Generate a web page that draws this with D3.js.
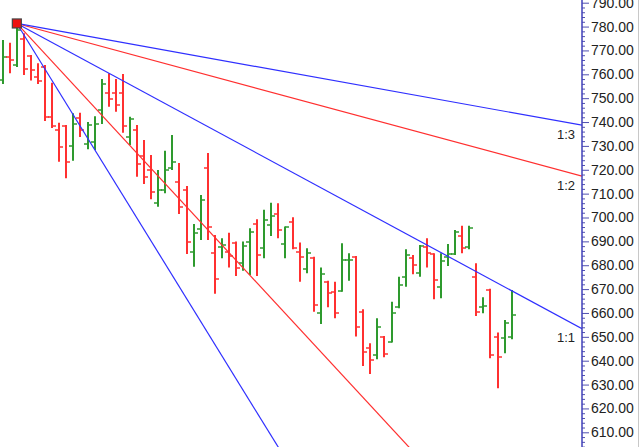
<!DOCTYPE html>
<html>
<head>
<meta charset="utf-8">
<script src="https://cdn.jsdelivr.net/npm/d3@7"></script>
<style>
  html, body { margin: 0; padding: 0; background: #fff; }
  svg { display: block; }
</style>
</head>
<body>
<svg id="chart" width="640" height="447"></svg>
<script>
// ---- Data (OHLC per bar) ----
const barOpen  = [757.6,767.1,763.9,774.9,767.7,758.9,763.1,742.0,736.7,738.3,730.0,741.7,730.8,731.8,745.0,
                  752.3,752.0,752.0,733.9,736.7,725.8,719.9,706.2,711.5,720.7,715.0,711.5,685.7,695.1,720.9,
                  685.3,687.8,685.7,689.2,680.8,689.9,697.3,687.1,696.9,701.5,688.9,698.3,685.6,678.4,682.9,
                  660.1,673.1,668.9,669.4,682.0,683.3,660.5,645.2,642.4,649.8,648.0,662.4,675.2,682.9,676.9,
                  687.5,684.7,670.8,683.6,684.7,692.3,687.8,675.2,662.7,669.6,650.1,649.4,649.9];
const barHigh  = [774.4,773.2,781.3,777.2,768.1,764.6,763.9,756.5,739.7,738.8,743.7,743.9,740.0,742.4,758.0,
                  760.4,758.0,760.1,742.2,738.8,732.5,726.2,719.9,728.0,734.6,722.8,713.2,697.3,709.4,727.0,
                  692.7,691.3,693.6,689.9,689.9,695.5,699.3,703.2,706.2,706.0,696.2,700.1,689.5,687.1,683.6,
                  679.1,673.5,673.1,689.2,685.0,683.9,661.6,647.3,657.8,650.4,664.7,675.2,686.7,684.3,688.5,
                  691.3,685.0,685.0,688.9,694.8,696.5,696.5,680.8,666.6,670.1,651.8,657.1,669.6];
const barLow   = [755.9,760.4,763.1,759.7,757.4,755.9,740.4,737.5,723.4,716.4,723.8,733.7,728.6,728.3,739.2,
                  746.4,744.3,735.5,730.4,717.1,714.0,707.6,704.5,710.2,719.9,701.5,684.7,679.4,690.6,690.6,
                  668.0,682.9,679.1,675.5,677.7,675.9,675.5,682.9,692.3,691.3,682.9,686.7,673.1,676.6,660.5,
                  655.4,662.4,657.8,668.9,673.5,650.1,637.8,634.4,640.6,641.4,647.6,662.0,671.0,676.2,675.2,
                  679.1,665.7,666.2,679.7,684.3,685.0,686.7,658.7,659.9,641.0,628.5,643.1,649.0];
const barClose = [767.4,766.0,778.6,762.1,761.6,757.2,742.0,738.3,729.4,723.4,739.3,736.7,738.8,739.3,756.0,
                  749.5,747.1,738.3,741.2,722.4,717.1,710.8,711.5,719.9,723.4,704.5,689.9,693.4,707.3,695.9,
                  674.1,688.3,683.9,678.7,688.1,694.1,684.3,699.0,700.6,694.8,695.9,687.2,683.3,685.3,663.4,
                  676.3,668.3,660.1,682.2,682.4,654.3,643.8,640.3,654.3,642.8,660.1,671.7,684.3,680.1,688.1,
                  685.3,673.8,681.9,684.7,694.1,687.1,695.5,660.5,663.1,642.4,641.7,655.7,659.2];

const priceTicks = [610,620,630,640,650,660,670,680,690,700,710,720,730,740,750,760,770,780,790];
const minorStep = 2;

// Gann fan: anchored on high of bar 2, 1x1 = 1.6 price units per bar
const fanAnchorIndex = 2;
const fanUnit = 1.6;
const fanLabels = ["3:1","2:1","1:1","1:2","1:3"];
const fanMultipliers = [3, 2, 1, 1/2, 1/3];

// ---- Layout ----
const W = 640, H = 447;
const axisX = 582;
const svg = d3.select("#chart");

const x = d3.scaleLinear().domain([0, barOpen.length - 1]).range([2.7, 511.7]);
const y = d3.scaleLinear().domain([610, 790]).range([432.3, 2.7]);

const upColor = "#2e9a2e", downColor = "#ff3030";
const fanColors = ["#2f2fff","#ff2f2f","#2f2fff","#ff2f2f","#2f2fff"];

svg.append("defs").append("clipPath").attr("id","plotclip")
  .append("rect").attr("x",0).attr("y",0).attr("width",axisX).attr("height",H);

// right border
svg.append("line").attr("x1",638.5).attr("x2",638.5).attr("y1",0).attr("y2",H)
  .attr("stroke","#c8c8c8").attr("stroke-width",1);

const plot = svg.append("g").attr("clip-path","url(#plotclip)");

// ---- OHLC bars ----
const bars = plot.append("g");
barOpen.forEach((o, i) => {
  const c = barClose[i];
  const col = c >= o ? upColor : downColor;
  const cx = Math.round(x(i)) + 0.0;
  const g = bars.append("g").attr("stroke", col).attr("stroke-width", 2);
  g.append("line").attr("x1", cx).attr("x2", cx).attr("y1", y(barHigh[i])).attr("y2", y(barLow[i]));
  g.append("line").attr("x1", cx - 4).attr("x2", cx).attr("y1", Math.round(y(o))).attr("y2", Math.round(y(o)))
    .attr("stroke-width", 1.5);
  g.append("line").attr("x1", cx).attr("x2", cx + 4).attr("y1", Math.round(y(c))).attr("y2", Math.round(y(c)))
    .attr("stroke-width", 1.5);
});

// ---- Gann fan ----
const anchorPrice = barHigh[fanAnchorIndex];
const endIndex = x.invert(axisX);
const fans = plot.append("g");
fanMultipliers.forEach((m, k) => {
  const endPrice = anchorPrice - m * fanUnit * (endIndex - fanAnchorIndex);
  fans.append("line")
    .attr("x1", x(fanAnchorIndex)).attr("y1", y(anchorPrice))
    .attr("x2", x(endIndex)).attr("y2", y(endPrice))
    .attr("stroke", fanColors[k]).attr("stroke-width", 1.2);
  if (y(endPrice) < H) {
    svg.append("text")
      .attr("x", 575).attr("y", y(endPrice) + 9)
      .attr("dy", "0.35em")
      .attr("text-anchor", "end")
      .attr("font-family", "Liberation Sans, Arial, sans-serif")
      .attr("font-size", 13)
      .attr("fill", "#222")
      .text(fanLabels[k]);
  }
});

// anchor marker
svg.append("rect")
  .attr("x", x(fanAnchorIndex) - 4.5).attr("y", y(anchorPrice) - 4.5)
  .attr("width", 9).attr("height", 9)
  .attr("fill", "#ee1111").attr("stroke", "#444").attr("stroke-width", 1.2);

// ---- Price axis ----
const minorVals = d3.range(604, 792, minorStep).filter(v => v % 10 !== 0);
const minorAxis = d3.axisRight(y).tickValues(minorVals).tickSize(3).tickFormat("");
const gMinor = svg.append("g").attr("transform", `translate(${axisX},0)`).call(minorAxis);
gMinor.select(".domain").remove();
gMinor.selectAll("line").attr("stroke", "#5050b0");

const majorAxis = d3.axisRight(y).tickValues(priceTicks).tickSize(7).tickPadding(2)
  .tickFormat(d3.format(".2f"));
const gMajor = svg.append("g").attr("transform", `translate(${axisX},0)`).call(majorAxis);
gMajor.select(".domain").remove();
gMajor.selectAll("line").attr("stroke", "#5050b0");
gMajor.selectAll("text")
  .attr("font-family", "Liberation Sans, Arial, sans-serif")
  .attr("font-size", 14)
  .attr("fill", "#222");

svg.append("line").attr("x1", axisX).attr("x2", axisX).attr("y1", 0).attr("y2", H)
  .attr("stroke", "#4040b8").attr("stroke-width", 1.5);
</script>
</body>
</html>
